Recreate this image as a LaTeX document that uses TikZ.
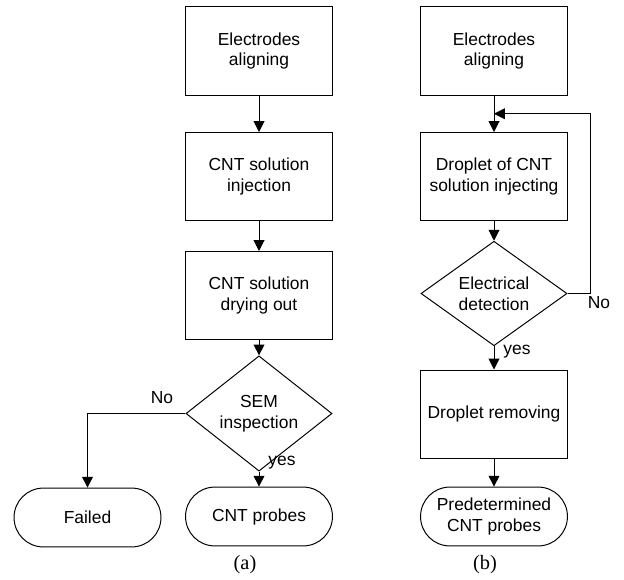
\documentclass[tikz,border=0pt]{standalone}
\usepackage{fontspec}
\setmainfont{Liberation Serif}
\setsansfont{Liberation Sans}
\usepackage{tikz}
\usetikzlibrary{arrows.meta,shapes.geometric,calc}

\begin{document}
\begin{tikzpicture}[x=0.025cm,y=-0.025cm,line width=0.7pt,
  >={Triangle[length=0.27cm,width=0.27cm]},
  every node/.style={font=\sffamily\fontsize{12.4}{14.9}\selectfont,align=center},
  stepbox/.style={draw,minimum width=3.65cm,minimum height=2.2cm,inner sep=0pt},
  decision/.style={draw,diamond,minimum width=3.65cm,minimum height=2.175cm,inner sep=0pt},
  terminal/.style={draw,rounded corners=0.73cm,minimum width=3.67cm,minimum height=1.47cm,inner sep=0pt},
  caption/.style={font=\rmfamily\fontsize{14.5}{17}\selectfont}]
\useasboundingbox (0,0) rectangle (624,579);
% (a)
\node[stepbox] (a1) at (259,51) {Electrodes\\aligning};
\node[stepbox] (a2) at (259,176.5) {CNT solution\\injection};
\node[stepbox] (a3) at (259,295.5) {CNT solution\\drying out};
\node[decision] (a4) at (259,413.5) {SEM\\inspection};
\node[terminal] (a5) at (87.5,517.5) {Failed};
\node[terminal] (a6) at (259,516.5) {CNT probes};
\draw[->](a1)--(a2);
\draw[->](a2)--(a3);
\draw[->](a3)--(a4);
\draw[->](a4.west)-|(a5.north);
\draw[->](a4.south)--(a6.north);
\node (no1) at (162,398) {No};
\node (yes1) at (282,463) {yes};
\node[caption] (capa) at (245,565) {(a)};
% (b)
\node[stepbox] (b1) at (494,51) {Electrodes\\aligning};
\node[stepbox] (b2) at (494,176.5) {Droplet of CNT\\solution injecting};
\node[decision] (b3) at (494,293.5) {Electrical\\detection};
\node[stepbox] (b4) at (494,414) {Droplet removing};
\node[terminal] (b5) at (494,516.5) {Predetermined\\CNT probes};
\coordinate (join) at ($(b1.south)!0.5!(b2.north)$);
\draw[->](b1)--(b2);
\draw[->](b2)--(b3);
\draw[->](b3.east)--++(23,0)|-(join);
\draw[->](b3)--(b4);
\draw[->](b4)--(b5);
\node (no2) at (599,303) {No};
\node (yes2) at (517,352) {yes};
\node[caption] (capb) at (485,565) {(b)};
\end{tikzpicture}
\end{document}
